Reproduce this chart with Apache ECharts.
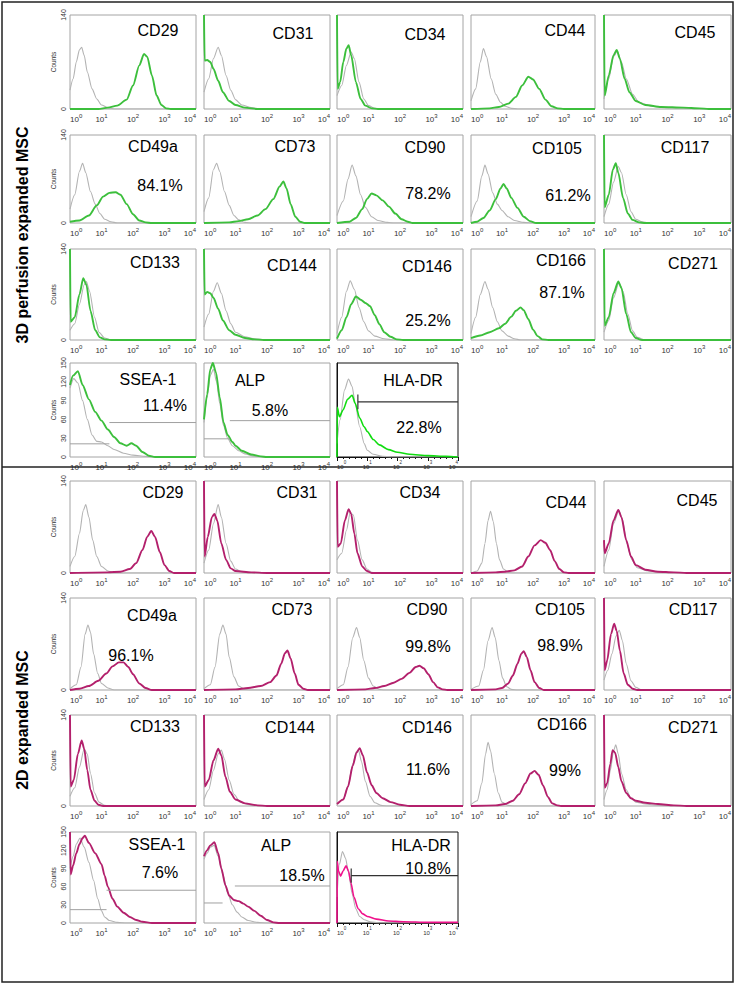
<!DOCTYPE html>
<html>
<head>
<meta charset="utf-8">
<title>MSC surface marker histograms</title>
<script src="https://cdn.jsdelivr.net/npm/echarts@6/dist/echarts.min.js"></script>
<style>
  html, body { margin: 0; padding: 0; background: #fff; }
  #chart { width: 735px; height: 985px; }
</style>
</head>
<body>
<div id="chart"></div>
<script>
// ---- data (x in decades of fluorescence: 0 = 10^0 ... 4 = 10^4, y = counts) ----
const panelNames = ['CD29', 'CD31', 'CD34', 'CD44', 'CD45', 'CD49a', 'CD73', 'CD90', 'CD105', 'CD117',
  'CD133', 'CD144', 'CD146', 'CD166', 'CD271', 'SSEA-1', 'ALP', 'HLA-DR'];
const pct3D = ['', '', '', '', '', '84.1%', '', '78.2%', '61.2%', '', '', '', '25.2%', '87.1%', '', '11.4%', '5.8%', '22.8%'];
const pct2D = ['', '', '', '', '', '96.1%', '', '99.8%', '98.9%', '', '', '', '11.6%', '99%', '', '7.6%', '18.5%', '10.8%'];
const yMax = [140, 140, 140, 140, 140, 140, 140, 140, 140, 140, 140, 140, 140, 140, 140, 150, 150, 140];
const yStep = [140, 140, 140, 140, 140, 140, 140, 140, 140, 140, 140, 140, 140, 140, 140, 30, 30, 140];
const xDecades = [0, 1, 2, 3, 4];

// isotype control (grey) and stained (coloured) histograms, 3D perfusion expanded MSC
const iso3D = [
  [[0,28],[0.1,45],[0.2,70],[0.3,88],[0.37,92],[0.45,80],[0.55,55],[0.7,30],[0.85,15],[1,6],[1.2,2],[1.4,0],[4,0]],
  [[0,25],[0.15,45],[0.3,75],[0.45,92],[0.55,80],[0.7,50],[0.85,28],[1,14],[1.2,6],[1.5,2],[1.8,0],[4,0]],
  [[0,20],[0.15,35],[0.3,65],[0.45,85],[0.55,75],[0.7,40],[0.85,15],[1,5],[1.2,1],[1.4,0],[4,0]],
  [[0,12],[0.15,30],[0.3,70],[0.4,90],[0.5,78],[0.65,45],[0.8,22],[0.95,10],[1.1,4],[1.3,1],[1.5,0],[4,0]],
  [[0,15],[0.15,45],[0.3,78],[0.42,86],[0.55,70],[0.7,45],[0.9,22],[1.1,10],[1.5,4],[2,2],[2.8,1],[3.2,0],[4,0]],
  [[0,22],[0.15,45],[0.3,82],[0.4,95],[0.5,80],[0.65,50],[0.8,30],[0.95,15],[1.1,6],[1.3,2],[1.5,0],[4,0]],
  [[0,18],[0.15,40],[0.3,85],[0.4,95],[0.5,82],[0.65,50],[0.8,28],[0.95,12],[1.1,5],[1.3,1],[1.5,0],[4,0]],
  [[0,12],[0.2,35],[0.35,70],[0.48,92],[0.6,75],[0.75,45],[0.9,25],[1.1,10],[1.3,4],[1.6,1],[1.8,0],[4,0]],
  [[0,10],[0.2,35],[0.35,75],[0.45,92],[0.55,78],[0.7,48],[0.85,30],[1,20],[1.2,10],[1.4,4],[1.7,1],[2,0],[4,0]],
  [[0,10],[0.15,30],[0.3,65],[0.45,90],[0.55,80],[0.7,45],[0.85,18],[1,6],[1.2,2],[1.4,0],[4,0]],
  [[0,15],[0.15,25],[0.3,55],[0.45,85],[0.52,90],[0.62,75],[0.78,35],[0.92,12],[1.1,3],[1.3,0],[4,0]],
  [[0,20],[0.15,40],[0.3,75],[0.42,88],[0.55,72],[0.7,45],[0.85,25],[1,12],[1.3,5],[1.6,2],[2,0],[4,0]],
  [[0,10],[0.15,35],[0.3,75],[0.42,91],[0.55,78],[0.7,50],[0.85,28],[1,14],[1.2,6],[1.5,2],[1.8,0],[4,0]],
  [[0,10],[0.15,35],[0.3,70],[0.45,90],[0.55,78],[0.7,50],[0.85,28],[1,14],[1.2,6],[1.4,2],[1.6,0],[4,0]],
  [[0,12],[0.15,30],[0.3,65],[0.47,88],[0.6,75],[0.75,40],[0.9,14],[1.05,4],[1.3,0],[4,0]],
  [[0,110],[0.12,125],[0.25,118],[0.4,90],[0.55,60],[0.7,35],[0.85,25],[1,24],[1.2,18],[1.4,12],[1.7,6],[2,3],[2.4,1],[2.7,0],[4,0]],
  [[0,55],[0.1,95],[0.2,130],[0.3,140],[0.4,120],[0.5,85],[0.62,50],[0.75,30],[0.9,18],[1.1,10],[1.3,5],[1.6,1],[1.9,0],[4,0]],
  [[0,20],[0.1,55],[0.25,100],[0.38,116],[0.5,105],[0.6,80],[0.75,45],[0.9,20],[1,10],[1.2,4],[1.5,1],[1.8,0],[4,0]]
];
const stain3D = [
  [[0,0],[0.9,0],[1.2,2],[1.5,5],[1.8,14],[2,35],[2.2,65],[2.35,82],[2.45,78],[2.6,50],[2.75,20],[2.9,6],[3.05,1],[3.2,0],[4,0]],
  [[0,140],[0.02,72],[0.1,73],[0.2,70],[0.3,60],[0.45,42],[0.6,25],[0.8,12],[1,6],[1.3,2],[1.7,0],[4,0]],
  [[0,140],[0.02,30],[0.1,40],[0.2,70],[0.3,90],[0.37,95],[0.45,80],[0.6,40],[0.75,15],[0.9,5],[1.1,1],[1.3,0],[4,0]],
  [[0,0],[0.6,1],[0.9,3],[1.2,8],[1.45,18],[1.65,35],[1.85,48],[2,44],[2.2,30],[2.4,14],[2.6,4],[2.8,1],[3,0],[4,0]],
  [[0,140],[0.02,20],[0.15,50],[0.3,80],[0.4,88],[0.5,75],[0.65,45],[0.8,25],[1,12],[1.3,6],[1.8,3],[2.5,2],[3,1],[3.3,0],[4,0]],
  [[0,2],[0.3,4],[0.6,12],[0.85,28],[1.05,42],[1.25,48],[1.45,49],[1.6,45],[1.8,30],[2,14],[2.2,4],[2.4,1],[2.6,0],[4,0]],
  [[0,0],[0.8,1],[1.1,3],[1.4,6],[1.7,12],[1.95,22],[2.2,38],[2.4,58],[2.52,66],[2.62,55],[2.75,30],[2.9,10],[3.05,2],[3.2,0],[4,0]],
  [[0,0],[0.4,2],[0.6,8],[0.8,22],[0.95,38],[1.1,47],[1.25,44],[1.45,36],[1.65,26],[1.85,15],[2.05,6],[2.25,2],[2.4,0],[4,0]],
  [[0,0],[0.2,2],[0.4,8],[0.6,20],[0.8,38],[0.95,55],[1.05,62],[1.15,55],[1.3,40],[1.5,24],[1.7,10],[1.9,3],[2.1,0],[4,0]],
  [[0,140],[0.02,25],[0.15,45],[0.28,85],[0.37,95],[0.45,80],[0.6,40],[0.75,15],[0.9,5],[1.1,1],[1.3,0],[4,0]],
  [[0,140],[0.02,28],[0.15,35],[0.3,70],[0.42,95],[0.52,85],[0.65,45],[0.8,15],[0.95,4],[1.1,1],[1.3,0],[4,0]],
  [[0,140],[0.02,70],[0.1,74],[0.2,72],[0.3,65],[0.45,48],[0.6,30],[0.8,15],[1,8],[1.3,3],[1.6,1],[1.9,0],[4,0]],
  [[0,2],[0.15,15],[0.3,35],[0.45,55],[0.6,67],[0.75,62],[0.9,57],[1.05,52],[1.2,38],[1.35,24],[1.5,12],[1.7,5],[1.9,1],[2.1,0],[4,0]],
  [[0,3],[0.3,7],[0.6,12],[0.9,18],[1.1,25],[1.3,36],[1.45,45],[1.6,50],[1.7,46],[1.85,32],[2,16],[2.15,6],[2.3,1],[2.5,0],[4,0]],
  [[0,140],[0.02,22],[0.15,35],[0.3,72],[0.45,90],[0.55,80],[0.7,40],[0.85,12],[1,3],[1.2,0],[4,0]],
  [[0,115],[0.1,130],[0.25,137],[0.4,115],[0.6,92],[0.8,72],[1,58],[1.2,44],[1.4,32],[1.6,22],[1.8,18],[1.95,22],[2.1,18],[2.3,8],[2.5,2],[2.7,0],[4,0]],
  [[0,60],[0.1,100],[0.2,140],[0.28,150],[0.38,135],[0.5,95],[0.62,55],[0.75,35],[0.9,24],[1,18],[1.2,10],[1.5,4],[1.8,1],[2,0],[4,0]],
  [[0,0],[0.01,74],[0.08,60],[0.2,70],[0.35,86],[0.5,92],[0.6,80],[0.75,58],[0.9,45],[1,38],[1.2,26],[1.4,18],[1.7,11],[2,7],[2.4,4],[3,2],[3.6,1],[4,0]]
];

// 2D expanded MSC
const iso2D = [
  [[0,10],[0.15,25],[0.3,60],[0.42,95],[0.5,104],[0.6,85],[0.72,50],[0.85,25],[1,10],[1.2,3],[1.4,0],[4,0]],
  [[0,15],[0.15,35],[0.3,75],[0.45,104],[0.55,85],[0.7,45],[0.85,18],[1,6],[1.2,2],[1.5,0],[4,0]],
  [[0,20],[0.15,30],[0.3,65],[0.42,92],[0.52,88],[0.65,50],[0.8,20],[0.95,6],[1.1,1],[1.3,0],[4,0]],
  [[0,0],[0.2,3],[0.35,15],[0.45,45],[0.55,80],[0.63,94],[0.72,78],[0.82,45],[0.92,20],[1.05,6],[1.2,1],[1.4,0],[4,0]],
  [[0,10],[0.15,35],[0.3,75],[0.47,95],[0.58,82],[0.72,45],[0.88,20],[1.05,8],[1.4,3],[1.8,1],[2.3,0],[4,0]],
  [[0,2],[0.2,8],[0.35,35],[0.48,85],[0.57,99],[0.65,88],[0.75,55],[0.88,25],[1,10],[1.2,3],[1.4,0],[4,0]],
  [[0,2],[0.2,8],[0.35,35],[0.5,85],[0.6,99],[0.7,85],[0.8,50],[0.95,20],[1.1,6],[1.3,1],[1.5,0],[4,0]],
  [[0,2],[0.2,8],[0.35,35],[0.5,80],[0.62,95],[0.72,80],[0.85,45],[1,18],[1.15,6],[1.35,1],[1.5,0],[4,0]],
  [[0,1],[0.25,6],[0.4,30],[0.55,75],[0.68,95],[0.78,80],[0.9,45],[1.02,18],[1.15,5],[1.3,1],[1.5,0],[4,0]],
  [[0,15],[0.12,30],[0.25,55],[0.38,82],[0.48,91],[0.58,75],[0.7,40],[0.85,14],[1,4],[1.2,0],[4,0]],
  [[0,15],[0.15,28],[0.3,60],[0.45,88],[0.55,80],[0.65,50],[0.78,20],[0.92,6],[1.1,1],[1.3,0],[4,0]],
  [[0,10],[0.15,25],[0.3,55],[0.45,80],[0.55,86],[0.65,72],[0.8,40],[0.95,18],[1.15,6],[1.5,1],[1.8,0],[4,0]],
  [[0,3],[0.2,10],[0.35,30],[0.5,65],[0.62,84],[0.68,86],[0.78,68],[0.9,38],[1.05,15],[1.2,5],[1.4,1],[1.6,0],[4,0]],
  [[0,2],[0.2,8],[0.35,35],[0.47,80],[0.55,98],[0.63,85],[0.75,50],[0.88,20],[1,6],[1.2,1],[1.4,0],[4,0]],
  [[0,10],[0.1,25],[0.2,55],[0.3,85],[0.37,94],[0.45,80],[0.55,50],[0.7,25],[0.85,12],[1,6],[1.3,3],[1.7,1],[2.1,0],[4,0]],
  [[0,90],[0.1,110],[0.2,130],[0.32,140],[0.45,125],[0.6,100],[0.75,70],[0.88,40],[1,20],[1.1,10],[1.25,4],[1.5,1],[1.8,0],[4,0]],
  [[0,105],[0.1,115],[0.2,125],[0.32,128],[0.45,110],[0.6,80],[0.75,50],[0.9,30],[1.05,18],[1.2,10],[1.4,4],[1.7,1],[2,0],[4,0]],
  [[0,40],[0.08,90],[0.18,110],[0.28,100],[0.38,78],[0.5,45],[0.62,22],[0.75,10],[0.9,5],[1.1,2],[1.4,0],[4,0]]
];
const stain2D = [
  [[0,0],[1.2,1],[1.6,2],[1.9,6],[2.1,15],[2.3,35],[2.45,55],[2.58,64],[2.7,55],[2.85,32],[3,12],[3.15,3],[3.3,0],[4,0]],
  [[0,140],[0.02,25],[0.12,55],[0.25,85],[0.33,90],[0.42,80],[0.55,45],[0.7,20],[0.85,7],[1,3],[1.5,1],[2,0],[4,0]],
  [[0,140],[0.02,40],[0.12,45],[0.25,80],[0.37,97],[0.45,90],[0.55,60],[0.65,30],[0.8,10],[0.95,3],[1.1,0],[4,0]],
  [[0,0],[0.8,1],[1.1,2],[1.4,4],[1.65,10],[1.85,25],[2.05,42],[2.25,50],[2.4,46],[2.55,35],[2.7,18],[2.85,6],[3,1],[3.15,0],[4,0]],
  [[0,50],[0.02,30],[0.15,45],[0.3,80],[0.45,96],[0.55,85],[0.7,50],[0.85,25],[1,12],[1.3,5],[1.7,2],[2.2,1],[2.6,0],[4,0]],
  [[0,0],[0.3,2],[0.6,6],[0.9,14],[1.15,25],[1.35,36],[1.55,42],[1.7,42],[1.85,35],[2,24],[2.2,10],[2.4,3],[2.6,0],[4,0]],
  [[0,0],[1,1],[1.4,3],[1.8,6],[2.1,12],[2.3,22],[2.45,40],[2.57,56],[2.65,60],[2.75,48],[2.88,25],[3,8],[3.15,2],[3.3,0],[4,0]],
  [[0,0],[0.9,1],[1.2,3],[1.5,6],[1.8,11],[2.05,17],[2.3,26],[2.5,35],[2.62,37],[2.75,33],[2.9,24],[3.05,12],[3.2,4],[3.35,1],[3.5,0],[4,0]],
  [[0,0],[0.8,1],[1,3],[1.2,10],[1.35,22],[1.5,40],[1.62,55],[1.7,59],[1.8,50],[1.92,30],[2.05,12],[2.2,3],[2.35,0],[4,0]],
  [[0,140],[0.02,30],[0.1,45],[0.22,85],[0.32,101],[0.4,90],[0.5,60],[0.62,25],[0.75,8],[0.9,2],[1.05,0],[4,0]],
  [[0,140],[0.02,30],[0.12,40],[0.25,80],[0.37,101],[0.45,88],[0.55,55],[0.65,25],[0.78,8],[0.9,2],[1.05,0],[4,0]],
  [[0,140],[0.02,30],[0.15,40],[0.3,70],[0.45,88],[0.55,78],[0.68,45],[0.82,22],[1,10],[1.3,4],[1.7,1],[2,0],[4,0]],
  [[0,3],[0.2,10],[0.35,30],[0.5,62],[0.62,82],[0.72,89],[0.82,78],[0.95,52],[1.1,32],[1.25,20],[1.45,12],[1.7,6],[2,2],[2.3,0],[4,0]],
  [[0,0],[0.8,1],[1.1,3],[1.35,8],[1.55,18],[1.75,35],[1.92,50],[2.05,54],[2.18,48],[2.32,32],[2.48,14],[2.62,4],[2.78,1],[2.9,0],[4,0]],
  [[0,140],[0.02,28],[0.1,35],[0.2,65],[0.27,86],[0.35,82],[0.45,60],[0.55,38],[0.7,20],[0.85,12],[1,8],[1.3,5],[1.7,3],[2.2,1],[2.6,0],[4,0]],
  [[0,150],[0.02,80],[0.1,95],[0.2,115],[0.3,130],[0.4,140],[0.47,144],[0.6,132],[0.8,115],[1,97],[1.1,78],[1.2,60],[1.35,40],[1.5,27],[1.7,17],[1.9,10],[2.1,5],[2.3,2],[2.6,0],[4,0]],
  [[0,110],[0.1,120],[0.2,128],[0.33,133],[0.45,115],[0.55,90],[0.68,62],[0.8,45],[0.95,38],[1.1,36],[1.25,32],[1.4,27],[1.6,20],[1.8,12],[2,5],[2.2,1],[2.4,0],[4,0]],
  [[0,0],[0.01,95],[0.05,80],[0.12,72],[0.2,80],[0.3,88],[0.38,80],[0.46,62],[0.56,40],[0.7,22],[0.85,14],[1,10],[1.3,6],[1.7,3],[2.2,2],[3,1],[4,1]]
];

// gate markers: [from decade, to decade, count level]
const gatesSSEA3D = [[0, 1.25, 21], [1.25, 4, 55]];
const gatesALP3D = [[0, 0.82, 29], [0.82, 4, 58]];
const gatesSSEA2D = [[0, 1.16, 22], [1.16, 4, 54]];
const gatesALP2D = [[0, 0.59, 33], [0.98, 4, 61]];
// HLA-DR marker: [start decade, count level]
const hlaGate3D = [0.69, 82];
const hlaGate2D = [0.47, 73];

// ---- layout ----
const colX = [70, 204, 337, 471, 604];
const colW = [126, 126, 126, 124, 127];
const hlaW = 121;
const rows3D = [[15, 94], [135, 88], [249, 91], [363, 94]];
const rows2D = [[481, 92], [598, 92], [715, 91], [832, 91]];
const namePos3D = [[158,30],[293,33],[425,34],[565,30],[695,32],[153,146],[295,146],[425,147],[557,148],[685,147],
  [155,262],[292,265],[427,266],[561,260],[693,263],[148,379],[250,380],[413,380]];
const pctPos3D = [null,null,null,null,null,[160,185],null,[428,193],[568,195],null,null,null,[428,320],[562,292],null,[165,405],[270,410],[419,427]];
const namePos2D = [[163,492],[297,492],[420,492],[566,502],[697,500],[152,615],[292,609],[427,609],[560,609],[693,609],
  [155,726],[290,727],[427,727],[562,724],[693,727],[157,844],[276,845],[421,845]];
const pctPos2D = [null,null,null,null,null,[131,655],null,[428,646],[560,645],null,null,null,[428,769],[565,770],null,[160,872],[302,875],[428,868]];

const FONT = '"Liberation Sans", Arial, sans-serif';
const GREY = '#b3b3b3';

const grids = [], xAxes = [], yAxes = [], series = [], graphics = [];

function addHalf(rows, iso, stain, color, hlaColor, gates, hlaGate, names, pcts, namePos, pctPos) {
  for (let i = 0; i < panelNames.length; i++) {
    const r = i < 15 ? Math.floor(i / 5) : 3;
    const c = i < 15 ? i % 5 : i - 15;
    const isHla = i === 17;
    const k = grids.length;
    grids.push({
      left: colX[c], top: rows[r][0], width: isHla ? hlaW : colW[c], height: rows[r][1],
      show: true, borderColor: isHla ? '#111' : '#a4a4a4', borderWidth: 1,
      backgroundColor: '#fff', outerBoundsMode: 'none', containLabel: false
    });
    xAxes.push({
      gridIndex: k, type: 'value', min: 0, max: 4, interval: 1,
      axisLine: { show: isHla, lineStyle: { color: '#111' } },
      axisTick: { show: isHla, length: 4, lineStyle: { color: '#111' } },
      minorTick: { show: isHla, splitNumber: 5, length: 2, lineStyle: { color: '#111' } },
      splitLine: { show: false },
      axisLabel: {
        margin: isHla ? 3 : 4, color: '#333', fontFamily: FONT,
        alignMinLabel: 'left', alignMaxLabel: 'right',
        formatter: v => '{b|10}{s|' + xDecades[v] + '}',
        rich: {
          b: { fontSize: isHla ? 6 : 8, fontFamily: FONT, color: '#333', lineHeight: 10, verticalAlign: 'bottom' },
          s: { fontSize: isHla ? 4.5 : 6, fontFamily: FONT, color: '#333', lineHeight: 10, verticalAlign: 'top' }
        }
      }
    });
    const firstCol = c === 0;
    yAxes.push({
      gridIndex: k, type: 'value', min: 0, max: yMax[i], interval: yStep[i],
      axisLine: { show: isHla, lineStyle: { color: '#111' } },
      axisTick: { show: false },
      splitLine: { show: false },
      axisLabel: { show: firstCol, rotate: 90, fontSize: 7, margin: 3, color: '#333', fontFamily: FONT },
      name: firstCol ? 'Counts' : '', nameLocation: 'middle', nameRotate: 90, nameGap: 13,
      nameTextStyle: { fontSize: 6.5, color: '#333', fontFamily: FONT }
    });
    series.push({
      type: 'line', xAxisIndex: k, yAxisIndex: k, data: iso[i], showSymbol: false, silent: true,
      smooth: 0.25, smoothMonotone: 'x', z: 2,
      lineStyle: { color: GREY, width: 1.1 }
    });
    series.push({
      type: 'line', xAxisIndex: k, yAxisIndex: k, data: stain[i], showSymbol: false, silent: true,
      smooth: 0.25, smoothMonotone: 'x', z: 3,
      lineStyle: { color: isHla ? hlaColor : color, width: isHla ? 1.6 : 1.9 }
    });
    const g = gates[i];
    if (g) {
      g.forEach(seg => series.push({
        type: 'line', xAxisIndex: k, yAxisIndex: k, showSymbol: false, silent: true, z: 4,
        data: [[seg[0], seg[2]], [seg[1], seg[2]]],
        lineStyle: { color: '#a0a0a0', width: 1 }
      }));
    }
    if (isHla) {
      series.push({
        type: 'line', xAxisIndex: k, yAxisIndex: k, showSymbol: false, silent: true, z: 4,
        data: [[hlaGate[0], hlaGate[1]], [4, hlaGate[1]]],
        lineStyle: { color: '#333', width: 1.2 }
      });
      series.push({
        type: 'line', xAxisIndex: k, yAxisIndex: k, showSymbol: false, silent: true, z: 4,
        data: [[hlaGate[0], hlaGate[1] - 11], [hlaGate[0], hlaGate[1] + 11]],
        lineStyle: { color: '#333', width: 1.2 }
      });
    }
    graphics.push({
      type: 'text', x: namePos[i][0], y: namePos[i][1], z: 10,
      style: { text: names[i], fontSize: 16, fontFamily: FONT, fill: '#000', align: 'center', verticalAlign: 'middle' }
    });
    if (pcts[i]) {
      graphics.push({
        type: 'text', x: pctPos[i][0], y: pctPos[i][1], z: 10,
        style: { text: pcts[i], fontSize: 16, fontFamily: FONT, fill: '#000', align: 'center', verticalAlign: 'middle' }
      });
    }
  }
}

const gates3D = {}; gates3D[15] = gatesSSEA3D; gates3D[16] = gatesALP3D;
const gates2D = {}; gates2D[15] = gatesSSEA2D; gates2D[16] = gatesALP2D;

addHalf(rows3D, iso3D, stain3D, '#3cbf3c', '#10dc10', gates3D, hlaGate3D, panelNames, pct3D, namePos3D, pctPos3D);
addHalf(rows2D, iso2D, stain2D, '#b3206c', '#f0128c', gates2D, hlaGate2D, panelNames, pct2D, namePos2D, pctPos2D);

// outer frame, divider and side labels
graphics.push({ type: 'rect', z: 20, shape: { x: 2, y: 2, width: 731, height: 980 },
  style: { fill: 'none', stroke: '#222', lineWidth: 1.5 } });
graphics.push({ type: 'line', z: 20, shape: { x1: 2, y1: 467, x2: 733, y2: 467 },
  style: { stroke: '#222', lineWidth: 1.5 } });
graphics.push({ type: 'text', x: 22, y: 235, rotation: Math.PI / 2, z: 20,
  style: { text: '3D perfusion expanded MSC', fontSize: 16, fontWeight: 'bold', fontFamily: FONT,
    fill: '#000', align: 'center', verticalAlign: 'middle' } });
graphics.push({ type: 'text', x: 22, y: 720, rotation: Math.PI / 2, z: 20,
  style: { text: '2D expanded MSC', fontSize: 16, fontWeight: 'bold', fontFamily: FONT,
    fill: '#000', align: 'center', verticalAlign: 'middle' } });

const chart = echarts.init(document.getElementById('chart'), null, { renderer: 'svg' });
chart.setOption({
  animation: false,
  backgroundColor: '#fff',
  grid: grids,
  xAxis: xAxes,
  yAxis: yAxes,
  series: series,
  graphic: graphics
});
</script>
</body>
</html>
